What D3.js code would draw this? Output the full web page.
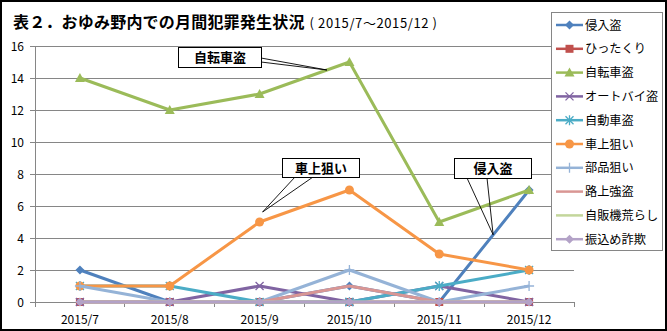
<!DOCTYPE html>
<html><head><meta charset="utf-8">
<script src="https://cdn.jsdelivr.net/npm/d3@7"></script>
<style>
body{margin:0;background:#fff;}
svg{display:block;font-family:"Noto Sans CJK JP","Noto Sans",sans-serif;}
</style></head>
<body><svg id="c" width="667" height="331"></svg>
<script>
const months = ["2015/7","2015/8","2015/9","2015/10","2015/11","2015/12"];
const seriesNames = ["侵入盗","ひったくり","自転車盗","オートバイ盗","自動車盗","車上狙い","部品狙い","路上強盗","自販機荒らし","振込め詐欺"];
const s_shinnyu   = [2,0,0,1,0,7];
const s_hittakuri = [0,0,0,0,0,0];
const s_jitensha  = [14,12,13,15,5,7];
const s_autobai   = [0,0,1,0,1,0];
const s_jidousha  = [1,1,0,0,1,2];
const s_shajou    = [1,1,5,7,3,2];
const s_buhin     = [1,0,0,2,0,1];
const s_rojou     = [0,0,0,1,0,0];
const s_jihanki   = [0,0,0,0,0,0];
const s_furikome  = [0,0,0,0,0,0];
const yTicks = [0,2,4,6,8,10,12,14,16];
const titleMain = "表２．おゆみ野内での月間犯罪発生状況";
const titleSub = "( 2015/7～2015/12 )";

const colors = ["#4F81BD","#C0504D","#9BBB59","#8064A2","#4BACC6","#F79646","#95B3D7","#D99694","#C3D69B","#B3A2C7"];
const markers = ["diamond","square","triangle","x","asterisk","circle","plus",null,null,"diamond"];
const values = [s_shinnyu,s_hittakuri,s_jitensha,s_autobai,s_jidousha,s_shajou,s_buhin,s_rojou,s_jihanki,s_furikome];
const series = seriesNames.map((n,i)=>({name:n,values:values[i],color:colors[i],marker:markers[i]}));

const svg = d3.select("#c");
svg.append("rect").attr("x",0).attr("y",0).attr("width",667).attr("height",331).attr("fill","#fff");

const x = d3.scaleBand().domain(months).range([35,574]).padding(0);
const y = d3.scaleLinear().domain([0,16]).range([302,46]);
const cx = m => x(m)+x.bandwidth()/2;

// gridlines
svg.append("g").selectAll("line").data(yTicks).join("line")
  .attr("x1",30).attr("x2",574).attr("y1",d=>y(d)).attr("y2",d=>y(d))
  .attr("stroke","#868686").attr("stroke-width",1).attr("shape-rendering","crispEdges");
// y axis
svg.append("line").attr("x1",35).attr("x2",35).attr("y1",46).attr("y2",302)
  .attr("stroke","#868686").attr("shape-rendering","crispEdges");
svg.append("g").selectAll("text").data(yTicks).join("text")
  .attr("x",24).attr("y",d=>y(d)+4.5).attr("text-anchor","end")
  .attr("font-size",12).attr("fill","#000").text(d=>d);
// x axis ticks
const xb = months.map(m=>x(m)).concat([x(months[months.length-1])+x.bandwidth()]);
svg.append("g").selectAll("line").data(xb).join("line")
  .attr("x1",d=>d).attr("x2",d=>d).attr("y1",302).attr("y2",307)
  .attr("stroke","#868686").attr("shape-rendering","crispEdges");
svg.append("g").selectAll("text").data(months).join("text")
  .attr("x",d=>cx(d)).attr("y",324).attr("text-anchor","middle")
  .attr("font-size",12).attr("fill","#000").text(d=>d);

function drawMarker(g, type, color, px, py){
  const s = 4.5;
  if(type==="diamond"){
    g.append("path").attr("d",`M${px},${py-s}L${px+s},${py}L${px},${py+s}L${px-s},${py}Z`).attr("fill",color);
  } else if(type==="square"){
    g.append("rect").attr("x",px-4).attr("y",py-4).attr("width",8).attr("height",8).attr("fill",color);
  } else if(type==="triangle"){
    g.append("path").attr("d",`M${px},${py-5}L${px+5},${py+4}L${px-5},${py+4}Z`).attr("fill",color);
  } else if(type==="circle"){
    g.append("circle").attr("cx",px).attr("cy",py).attr("r",4.5).attr("fill",color);
  } else if(type==="x"){
    g.append("path").attr("d",`M${px-4},${py-4}L${px+4},${py+4}M${px-4},${py+4}L${px+4},${py-4}`).attr("stroke",color).attr("stroke-width",1.3);
  } else if(type==="asterisk"){
    g.append("path").attr("d",`M${px-4},${py-4}L${px+4},${py+4}M${px-4},${py+4}L${px+4},${py-4}M${px},${py-5}L${px},${py+5}`).attr("stroke",color).attr("stroke-width",1.3);
  } else if(type==="plus"){
    g.append("path").attr("d",`M${px-5},${py}L${px+5},${py}M${px},${py-5}L${px},${py+5}`).attr("stroke",color).attr("stroke-width",1.3);
  }
}

const line = d3.line().x((d,i)=>cx(months[i])).y(d=>y(d));
series.forEach(s=>{
  const g = svg.append("g");
  g.append("path").attr("d",line(s.values)).attr("fill","none")
    .attr("stroke",s.color).attr("stroke-width",3).attr("stroke-linejoin","round");
  if(s.marker) s.values.forEach((v,i)=>drawMarker(g,s.marker,s.color,cx(months[i]),y(v)));
});

// callouts
function pointOn(vals,i,t){ return [cx(months[i])+(cx(months[i+1])-cx(months[i]))*t, y(vals[i]+(vals[i+1]-vals[i])*t)]; }
const callouts = [
  {text:"自転車盗", box:[178,47,83,20], base:[[261,58],[261,62]], tip:pointOn(s_jitensha,2,0.75)},
  {text:"車上狙い", box:[282,158,77,19], base:[[295,177],[313,177]], tip:[cx(months[2])+3, y(s_shajou[2])-10]},
  {text:"侵入盗", box:[454,158,77,20], base:[[467,178],[487,178]], tip:pointOn(s_shinnyu,4,0.6)}
];
callouts.forEach(c=>{
  const g = svg.append("g");
  c.base.forEach(b=>g.append("line").attr("x1",b[0]).attr("y1",b[1]).attr("x2",c.tip[0]).attr("y2",c.tip[1]).attr("stroke","#000").attr("stroke-width",0.9));
  g.append("rect").attr("x",c.box[0]+0.5).attr("y",c.box[1]+0.5).attr("width",c.box[2]).attr("height",c.box[3])
    .attr("fill","#fff").attr("stroke","#000").attr("stroke-width",1);
  g.append("text").attr("x",c.box[0]+c.box[2]/2+0.5).attr("y",c.box[1]+c.box[3]/2+5)
    .attr("text-anchor","middle").attr("font-size",13).attr("font-weight","bold").text(c.text);
});

// legend
const lg = svg.append("g");
lg.append("rect").attr("x",551.5).attr("y",12.5).attr("width",111).attr("height",238)
  .attr("fill","#fff").attr("stroke","#868686").attr("stroke-width",1);
series.forEach((s,i)=>{
  const ly = 25 + i*23.8;
  lg.append("line").attr("x1",556).attr("x2",583).attr("y1",ly).attr("y2",ly).attr("stroke",s.color).attr("stroke-width",2.5);
  if(s.marker) drawMarker(lg,s.marker,s.color,569.5,ly);
  lg.append("text").attr("x",585).attr("y",ly+4.5).attr("font-size",12.2).attr("fill","#000").text(s.name);
});

// title
const t = svg.append("text").attr("x",13).attr("y",28);
t.append("tspan").attr("font-size",16).attr("font-weight","bold").attr("letter-spacing",0.2).text(titleMain);
t.append("tspan").attr("font-size",13).attr("dx",5).attr("letter-spacing",0.6).text(titleSub);

// frame
svg.append("rect").attr("x",1).attr("y",1).attr("width",665).attr("height",329)
  .attr("fill","none").attr("stroke","#000").attr("stroke-width",2);
</script></body></html>
